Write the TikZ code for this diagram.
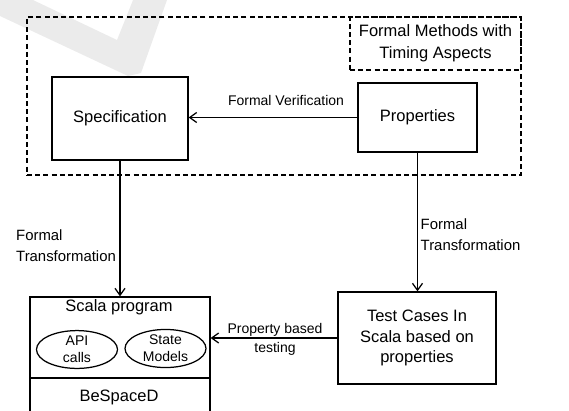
\documentclass[tikz,border=0pt]{standalone}
\usepackage{fontspec}
\setmainfont{Liberation Sans}
\usetikzlibrary{arrows.meta,shapes.geometric}
\begin{document}
\begin{tikzpicture}[x=1pt,y=-1pt,
  box/.style={draw,line width=1.25pt,rectangle,inner sep=0pt,align=center,font=\fontsize{16.5}{20.5}\selectfont},
  dbox/.style={draw,line width=1.25pt,rectangle,inner sep=0pt,dash pattern=on 5pt off 3.2pt,align=center},
  oval/.style={draw,line width=1.25pt,ellipse,inner sep=0pt,align=center,minimum width=81pt,minimum height=37pt,font=\fontsize{14}{17}\selectfont},
  lbl/.style={inner sep=0pt,font=\fontsize{14}{21}\selectfont},
  conn/.style={line width=1.25pt,-{Straight Barb[length=7pt,width=10pt,line width=1.25pt]}}]
\clip (0,0) rectangle (569,410);
\fill[black!8] (0,0) -- (33,0) -- (117,40) -- (133,0) -- (167,0) -- (141,73) -- (128,76) -- (0,16) -- cycle;
\node[dbox,minimum width=494pt,minimum height=158pt] (outer) at (274,96) {};
\node[dbox,minimum width=171pt,minimum height=53pt,font=\fontsize{16.5}{22}\selectfont] (timing) at (435.5,43.5) {Formal Methods with\\Timing Aspects};
\node[box,minimum width=136pt,minimum height=83pt] (spec) at (120,118.5) {Specification};
\node[box,minimum width=119pt,minimum height=69pt] (props) at (417.5,117.5) {Properties};
\node[box,minimum width=180pt,minimum height=81pt] (scala) at (120,337.5) {};
\node[inner sep=0pt,font=\fontsize{16.5}{20.5}\selectfont] (scalat) at (119,307) {Scala program};
\node[box,minimum width=180pt,minimum height=50pt] (bes) at (120,403) {};
\node[inner sep=0pt,font=\fontsize{16.5}{20.5}\selectfont] (best) at (119,397) {BeSpaceD};
\node[oval] (api) at (77,349.5) {API\\calls};
\node[oval] (state) at (165.5,348.5) {State\\Models};
\node[box,minimum width=158pt,minimum height=92pt] (test) at (417,338) {Test Cases In\\Scala based on\\properties};
\draw[conn] (props.west) -- (props.west -| spec.east);
\draw[conn] (spec.south) -- (scala.north);
\draw[conn] (props.south) -- (props.south |- test.north);
\draw[conn] (test.west) -- (test.west -| scala.east);
\node[lbl] (fv) at (286,100) {Formal Verification};
\node[lbl,align=center,font=\fontsize{14}{19}\selectfont] (pbt) at (275,339) {Property based\\testing};
\node[lbl,align=left,anchor=west,font=\fontsize{14.9}{21}\selectfont] (ft1) at (16,245.5) {Formal\\Transformation};
\node[lbl,align=left,anchor=west,font=\fontsize{14.9}{21}\selectfont] (ft2) at (420.5,234.5) {Formal\\Transformation};
\end{tikzpicture}
\end{document}
